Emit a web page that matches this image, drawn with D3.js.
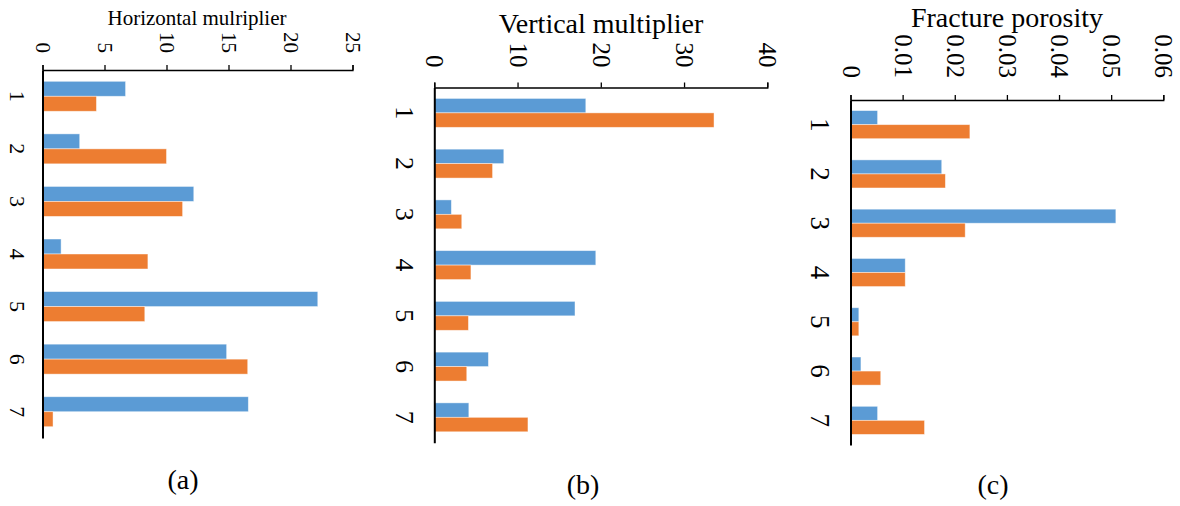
<!DOCTYPE html>
<html lang="en">
<head>
    <meta charset="UTF-8">
    <title>Multipliers and fracture porosity</title>
    <script src="https://d3js.org/d3.v7.min.js"></script>
    <style>
        body {
            margin: 0;
            background-color: #fff;
        }

        svg {
            display: block;
            background-color: #fff;
        }

        svg text {
            font-family: "Liberation Serif", "Times New Roman", serif;
        }

        .domain, .tick line {
            stroke: #000;
        }

        .tick text {
            fill: #000;
        }
    </style>
</head>
<body>
    <svg id="chart" width="1180" height="506"></svg>
    <script>
        // Data
        const categories = ["1", "2", "3", "4", "5", "6", "7"];

        const horizBlue   = [6.7, 3.0, 12.2, 1.5, 22.2, 14.85, 16.6];
        const horizOrange = [4.35, 10.0, 11.3, 8.5, 8.25, 16.55, 0.85];
        const horizTicks  = ["0", "5", "10", "15", "20", "25"];

        const vertBlue   = [18.2, 8.35, 2.05, 19.4, 16.9, 6.5, 4.15];
        const vertOrange = [33.6, 7.0, 3.3, 4.4, 4.1, 3.9, 11.25];
        const vertTicks  = ["0", "10", "20", "30", "40"];

        const poroBlue   = [0.0052, 0.0175, 0.0509, 0.0105, 0.0016, 0.0020, 0.0052];
        const poroOrange = [0.0229, 0.0182, 0.0220, 0.0105, 0.0016, 0.0058, 0.0142];
        const poroTicks  = ["0", "0.01", "0.02", "0.03", "0.04", "0.05", "0.06"];

        const seriesColors = ["#5B9BD5", "#ED7D31"];

        const svg = d3.select("#chart");

        // Draw one rotated bar panel
        function drawPanel(p, blue, orange, tickLabels) {
            const ticks = tickLabels.map(Number);
            const x = d3.scaleLinear()
                .domain([0, d3.max(ticks)])
                .range([p.x0, p.x1]);

            const y = d3.scaleBand()
                .domain(categories)
                .range([p.top, p.bottom])
                .paddingInner(0.43)
                .paddingOuter(0.215);

            const ySub = d3.scaleBand()
                .domain([0, 1])
                .range([0, y.bandwidth()]);

            const g = svg.append("g");

            // bars
            const rows = categories.map((c, i) => ({ c: c, vals: [blue[i], orange[i]] }));
            g.selectAll(".grp")
                .data(rows)
                .enter()
                .append("g")
                .attr("transform", d => `translate(0,${y(d.c)})`)
                .selectAll("rect")
                .data(d => d.vals)
                .enter()
                .append("rect")
                .attr("x", x(0))
                .attr("y", (d, i) => ySub(i))
                .attr("width", d => x(d) - x(0))
                .attr("height", ySub.bandwidth())
                .attr("fill", (d, i) => seriesColors[i])
                .attr("stroke", "rgba(255,255,255,0.55)")
                .attr("stroke-width", 0.8);

            // value axis on top
            const xAxis = g.append("g")
                .attr("transform", `translate(0,${p.top})`)
                .call(d3.axisTop(x)
                    .tickValues(ticks)
                    .tickFormat((d, i) => tickLabels[i])
                    .tickSizeInner(5)
                    .tickSizeOuter(5))
                .attr("font-family", null);
            xAxis.select(".domain").attr("stroke-width", 1.3);
            xAxis.selectAll(".tick line").attr("stroke-width", 1.3);
            xAxis.selectAll(".tick text")
                .attr("x", 0)
                .attr("y", 0)
                .attr("dy", "0.34em")
                .attr("transform", `translate(0,${-p.tickGap}) rotate(90)`)
                .style("text-anchor", "end")
                .style("font-size", p.tickFont + "px");

            // category axis on the left
            const yAxis = g.append("g")
                .attr("transform", `translate(${p.x0},0)`)
                .call(d3.axisLeft(y).tickSize(0))
                .attr("font-family", null);
            yAxis.select(".domain").attr("stroke-width", 2);
            yAxis.selectAll(".tick text")
                .attr("x", 0)
                .attr("y", 0)
                .attr("dy", "0")
                .attr("transform", `translate(${-(p.catGap + p.catFont * 0.68)},0) rotate(90)`)
                .style("text-anchor", "middle")
                .style("font-size", p.catFont + "px");

            // axis title
            g.append("text")
                .attr("x", p.titleX)
                .attr("y", p.titleY)
                .style("text-anchor", "middle")
                .style("font-size", p.titleFont + "px")
                .text(p.title);

            // caption
            g.append("text")
                .attr("x", p.capX)
                .attr("y", p.capY)
                .style("text-anchor", "middle")
                .style("font-size", "28px")
                .text(p.caption);
        }

        drawPanel({
            x0: 42.5, x1: 352.5, top: 70, bottom: 438,
            tickGap: 17, tickFont: 21, catGap: 17.5, catFont: 22,
            title: "Horizontal mulriplier", titleX: 197, titleY: 25, titleFont: 21,
            caption: "(a)", capX: 183, capY: 489
        }, horizBlue, horizOrange, horizTicks);

        drawPanel({
            x0: 434.3, x1: 767.3, top: 87.5, bottom: 442.7,
            tickGap: 20, tickFont: 25, catGap: 21, catFont: 26,
            title: "Vertical multiplier", titleX: 601, titleY: 33, titleFont: 28,
            caption: "(b)", capX: 583, capY: 494
        }, vertBlue, vertOrange, vertTicks);

        drawPanel({
            x0: 850.5, x1: 1163.3, top: 100, bottom: 445,
            tickGap: 22, tickFont: 25, catGap: 21.5, catFont: 27,
            title: "Fracture porosity", titleX: 1007, titleY: 27, titleFont: 28,
            caption: "(c)", capX: 993, capY: 494
        }, poroBlue, poroOrange, poroTicks);
    </script>
</body>
</html>
